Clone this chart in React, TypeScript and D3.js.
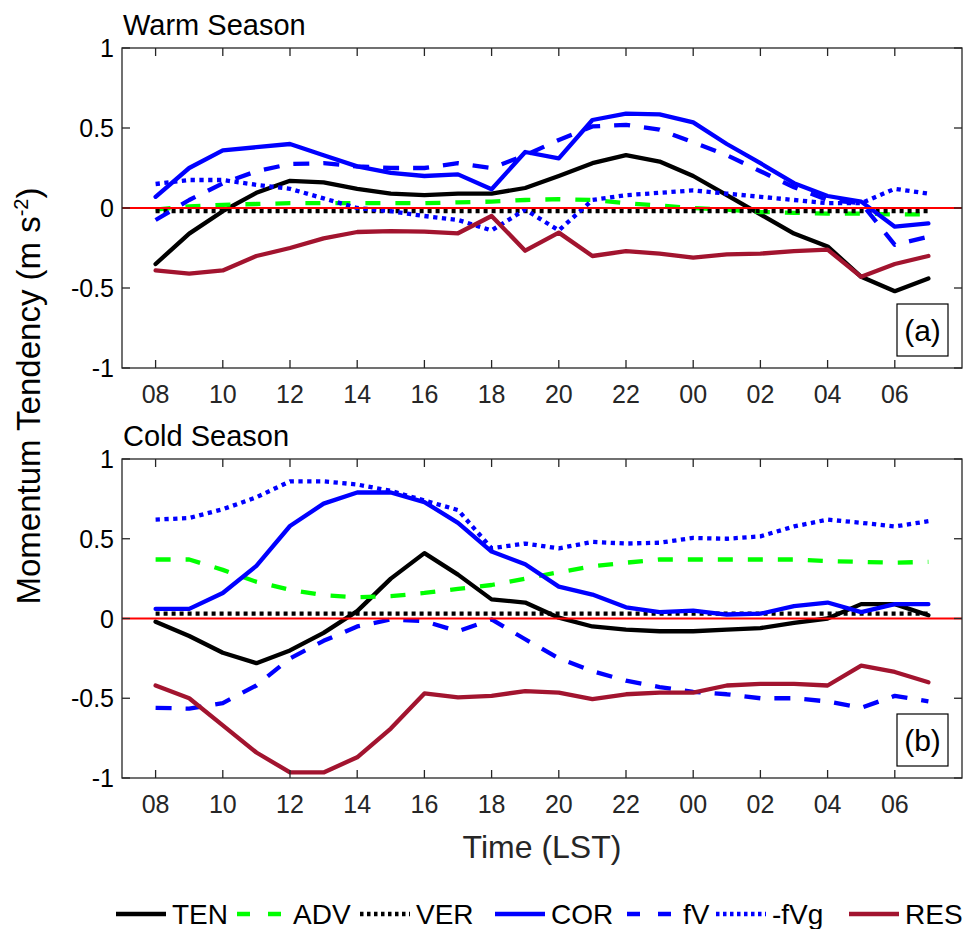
import React from "react";
import * as d3 from "d3";

// Hour of day (LST) for each sample, starting at 08
const hours = ["08","09","10","11","12","13","14","15","16","17","18","19","20","21","22","23","00","01","02","03","04","05","06","07"];
const xTickLabels = ["08","10","12","14","16","18","20","22","00","02","04","06"];
const yTicks = [-1, -0.5, 0, 0.5, 1];
const yTickLabels = ["-1", "-0.5", "0", "0.5", "1"];

// Warm season momentum budget terms (m s-2)
const tenWarm = [-0.35,-0.16,-0.02,0.095,0.17,0.16,0.12,0.09,0.08,0.09,0.09,0.125,0.2,0.28,0.33,0.29,0.2,0.08,-0.04,-0.16,-0.24,-0.43,-0.52,-0.44];
const advWarm = [-0.01,0.01,0.02,0.025,0.03,0.03,0.03,0.03,0.03,0.035,0.04,0.05,0.055,0.05,0.03,0.015,0.0,-0.01,-0.025,-0.03,-0.035,-0.035,-0.04,-0.04];
const verWarm = [-0.02,-0.02,-0.02,-0.02,-0.02,-0.02,-0.02,-0.02,-0.02,-0.02,-0.02,-0.02,-0.02,-0.02,-0.02,-0.02,-0.02,-0.02,-0.02,-0.02,-0.02,-0.02,-0.02,-0.02];
const corWarm = [0.07,0.25,0.36,0.38,0.4,0.33,0.26,0.22,0.2,0.21,0.117,0.35,0.31,0.55,0.59,0.585,0.535,0.4,0.28,0.155,0.075,0.04,-0.117,-0.096];
const fvWarm = [-0.075,0.05,0.154,0.23,0.275,0.28,0.26,0.25,0.25,0.28,0.25,0.33,0.425,0.51,0.52,0.49,0.41,0.33,0.23,0.13,0.05,0.03,-0.23,-0.18];
const fvgWarm = [0.15,0.175,0.175,0.145,0.12,0.06,0.0,-0.02,-0.05,-0.075,-0.14,-0.01,-0.14,0.05,0.08,0.095,0.11,0.09,0.07,0.05,0.03,0.03,0.12,0.09];
const resWarm = [-0.39,-0.41,-0.39,-0.3,-0.25,-0.19,-0.15,-0.145,-0.148,-0.158,-0.05,-0.267,-0.154,-0.3,-0.27,-0.285,-0.31,-0.29,-0.285,-0.27,-0.26,-0.43,-0.35,-0.3];

// Cold season momentum budget terms (m s-2)
const tenCold = [-0.02,-0.11,-0.215,-0.28,-0.2,-0.09,0.046,0.25,0.41,0.275,0.12,0.1,0.005,-0.05,-0.07,-0.08,-0.08,-0.07,-0.06,-0.027,0.0,0.09,0.09,0.02];
const advCold = [0.37,0.37,0.305,0.23,0.18,0.146,0.133,0.14,0.16,0.186,0.21,0.25,0.29,0.327,0.35,0.37,0.37,0.37,0.37,0.37,0.36,0.355,0.35,0.355];
const verCold = [0.03,0.03,0.03,0.03,0.03,0.03,0.03,0.03,0.03,0.03,0.03,0.03,0.03,0.03,0.03,0.03,0.03,0.03,0.03,0.03,0.03,0.03,0.03,0.03];
const corCold = [0.06,0.06,0.16,0.33,0.58,0.72,0.79,0.79,0.73,0.6,0.42,0.34,0.2,0.15,0.07,0.04,0.05,0.025,0.03,0.077,0.1,0.04,0.09,0.09];
const fvCold = [-0.56,-0.565,-0.53,-0.42,-0.25,-0.14,-0.05,-0.006,-0.017,-0.08,-0.006,-0.13,-0.25,-0.33,-0.39,-0.43,-0.46,-0.475,-0.5,-0.5,-0.52,-0.56,-0.485,-0.52];
const fvgCold = [0.62,0.63,0.685,0.76,0.86,0.86,0.84,0.8,0.74,0.68,0.44,0.47,0.44,0.48,0.47,0.475,0.505,0.5,0.515,0.577,0.62,0.6,0.577,0.61];
const resCold = [-0.42,-0.5,-0.67,-0.84,-0.965,-0.965,-0.87,-0.69,-0.47,-0.495,-0.485,-0.455,-0.465,-0.506,-0.475,-0.465,-0.465,-0.42,-0.41,-0.41,-0.42,-0.295,-0.335,-0.4];

const seriesNames = ["TEN", "ADV", "VER", "COR", "fV", "-fVg", "RES"];

type Style = { color: string; dash: string | null; width: number };
const styles: Record<string, Style> = {
  TEN: { color: "#000000", dash: null, width: 4.3 },
  ADV: { color: "#00FF00", dash: "15,15", width: 4.3 },
  VER: { color: "#000000", dash: "4,4", width: 4.3 },
  COR: { color: "#0000FF", dash: null, width: 4.3 },
  fV: { color: "#0000FF", dash: "16,14", width: 4.3 },
  "-fVg": { color: "#0000FF", dash: "4.3,4.5", width: 4.3 },
  RES: { color: "#A2142F", dash: null, width: 4.3 },
};

const warm = [tenWarm, advWarm, verWarm, corWarm, fvWarm, fvgWarm, resWarm];
const cold = [tenCold, advCold, verCold, corCold, fvCold, fvgCold, resCold];

const FONT = "'Liberation Sans', Arial, Helvetica, sans-serif";
const AXIS = "#262626";

const left = 122;
const right = 962;

const x = d3.scaleLinear().domain([-1, 24]).range([left, right]);

function Panel({ top, bottom, title, tag, data, id }: { top: number; bottom: number; title: string; tag: string; data: number[][]; id: string }) {
  const y = d3.scaleLinear().domain([-1, 1]).range([bottom, top]);
  const line = d3.line<number>().x((_, i) => x(i)).y((v) => y(v));
  const xTickIdx = xTickLabels.map((lab) => hours.indexOf(lab));
  const tickLen = 8;
  return (
    <g>
      <defs>
        <clipPath id={id}>
          <rect x={left} y={top} width={right - left} height={bottom - top} />
        </clipPath>
      </defs>
      <text x={left + 1} y={top - 13} fontSize={29} fontFamily={FONT} fill="#000">{title}</text>
      <g clipPath={`url(#${id})`}>
        {data.map((vals, k) => {
          const s = styles[seriesNames[k]];
          return (
            <path
              key={k}
              d={line(vals) || ""}
              fill="none"
              stroke={s.color}
              strokeWidth={s.width}
              strokeDasharray={s.dash || undefined}
              strokeLinejoin="round"
              strokeLinecap={s.dash ? "butt" : "round"}
            />
          );
        })}
        <line x1={left} x2={right} y1={y(0)} y2={y(0)} stroke="#FF0000" strokeWidth={2.2} />
      </g>
      {/* box and ticks */}
      <rect x={left} y={top} width={right - left} height={bottom - top} fill="none" stroke={AXIS} strokeWidth={1.3} />
      {xTickIdx.map((i, k) => (
        <g key={k}>
          <line x1={x(i)} x2={x(i)} y1={bottom} y2={bottom - tickLen} stroke={AXIS} strokeWidth={1.3} />
          <line x1={x(i)} x2={x(i)} y1={top} y2={top + tickLen} stroke={AXIS} strokeWidth={1.3} />
          <text x={x(i)} y={bottom + 35} fontSize={25} fontFamily={FONT} fill="#262626" textAnchor="middle">{xTickLabels[k]}</text>
        </g>
      ))}
      {yTicks.map((t, k) => (
        <g key={k}>
          <line x1={left} x2={left + tickLen} y1={y(t)} y2={y(t)} stroke={AXIS} strokeWidth={1.3} />
          <line x1={right} x2={right - tickLen} y1={y(t)} y2={y(t)} stroke={AXIS} strokeWidth={1.3} />
          <text x={left - 8} y={y(t)} dy="0.36em" fontSize={25} fontFamily={FONT} fill="#000" textAnchor="end">{yTickLabels[k]}</text>
        </g>
      ))}
      <rect x={right - 65} y={bottom - 64} width={51} height={52} fill="#fff" stroke="#000" strokeWidth={1.2} />
      <text x={right - 39.5} y={bottom - 38} dy="0.36em" fontSize={30} fontFamily={FONT} fill="#000" textAnchor="middle">{tag}</text>
    </g>
  );
}

// x of each legend label; the sample line sits just before it
const legendTextX = [172, 293, 416, 551, 683, 772, 905];

export default function App() {
  const legendY = 914;
  return (
    <svg width={970} height={929} style={{ position: "absolute", left: 0, top: 0, background: "#fff" }}>
      <rect x={0} y={0} width={970} height={929} fill="#fff" />
      <Panel top={48} bottom={368} title="Warm Season" tag="(a)" data={warm} id="clipWarm" />
      <Panel top={459} bottom={778} title="Cold Season" tag="(b)" data={cold} id="clipCold" />
      <text transform="translate(40,396) rotate(-90)" fontSize={33} fontFamily={FONT} fill="#000" textAnchor="middle">
        Momentum Tendency (m s<tspan dy={-12} fontSize={20}>-2</tspan><tspan dy={12}>)</tspan>
      </text>
      <text x={(left + right) / 2} y={858} fontSize={32} fontFamily={FONT} fill="#262626" textAnchor="middle">Time (LST)</text>
      <g>
        {seriesNames.map((name, k) => {
          const s = styles[name];
          const tx = legendTextX[k];
          return (
            <g key={name}>
              <line
                x1={tx - 56}
                x2={tx - 6}
                y1={legendY}
                y2={legendY}
                stroke={s.color}
                strokeWidth={s.width}
                strokeDasharray={s.dash ? (name === "ADV" || name === "fV" ? "13,18" : "3.5,3.5") : undefined}
              />
              <text x={tx} y={legendY} dy="0.36em" fontSize={28} fontFamily={FONT} fill="#000">{name}</text>
            </g>
          );
        })}
      </g>
    </svg>
  );
}
